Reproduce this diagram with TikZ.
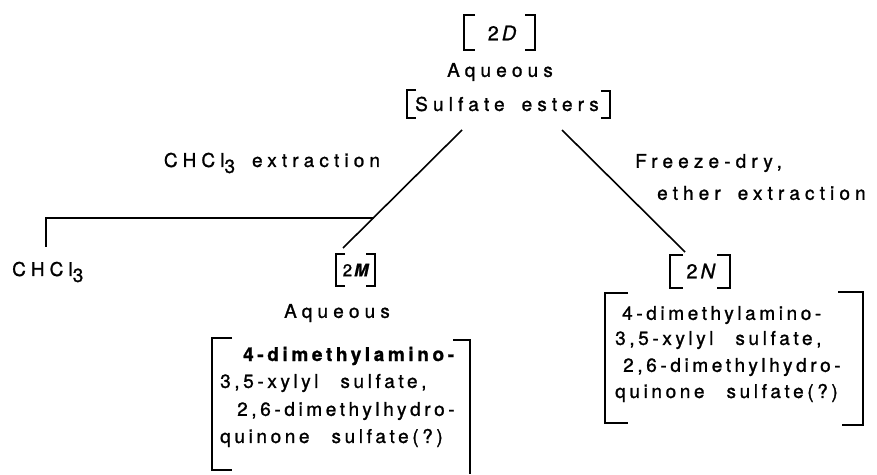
\documentclass[tikz,border=0pt]{standalone}
\usepackage{fontspec}
\setmainfont[FakeBold=1]{TeX Gyre Heros}
\newfontfamily\headfont[LetterSpace=27,FakeBold=1.2]{TeX Gyre Heros}
\newfontfamily\boxfont[LetterSpace=19,FakeBold=1.2]{TeX Gyre Heros}
\newcommand\wsp{\hspace{17pt}}
\newcommand\bsp{\hspace{22pt}}
\begin{document}
\begin{tikzpicture}[x=1pt,y=-1pt,
  lbl/.style={font=\headfont\fontsize{19}{21}\selectfont, inner sep=0pt},
  tag/.style={font=\fontsize{20}{22}\selectfont, inner sep=0pt},
  boxtxt/.style={font=\boxfont\fontsize{19}{21}\selectfont, inner sep=0pt, anchor=west},
  brk/.style={line width=2pt},
  conn/.style={line width=1.6pt}]
\useasboundingbox (0,0) rectangle (877,474);

% top
\node[tag] (d2) at (502,33) {2\hspace{3pt}\textit{D}};
\node[lbl] (aq1) at (500,72) {Aqueous};
\node[lbl] (se) at (507,104) {Sulfate\wsp esters};
\draw[brk] (475,15) -| (464,50) -- (475,50);
\draw[brk] (525,15) -| (535,50) -- (525,50);
\draw[brk] (416,90) -| (407,118) -- (416,118);
\draw[brk] (601,91) -| (610,118) -- (601,118);

% connector labels
\node[lbl] (ext1) at (272,163) {CHCl\raisebox{-6pt}{3}\wsp extraction};
\node[lbl,anchor=west] (fd) at (635,163) {Freeze-dry,};
\node[lbl,anchor=west] (ee) at (657,193) {ether\wsp extraction};

% left branch
\node[lbl,anchor=west] (chcl) at (12,272) {CHCl\raisebox{-6pt}{3}};
\node[tag,font=\fontsize{17}{20}\selectfont] (m2) at (356,270) {2\hspace{2pt}\textbf{\textit{M}}};
\draw[brk] (345,254) -| (336,286) -- (345,286);
\draw[brk] (366,254) -| (375,286) -- (366,286);
\node[lbl] (aq2) at (337,313) {Aqueous};

\node[boxtxt] (m2a) at (243,356) {\bfseries 4-dimethylamino-};
\node[boxtxt] (m2b) at (220,383) {3,5-xylyl\bsp sulfate,};
\node[boxtxt] (m2c) at (237,411) {2,6-dimethylhydro-};
\node[boxtxt] (m2d) at (220,438) {quinone\bsp sulfate(?)};
\draw[brk] (232,338) -| (212,470) -- (232,470);
\draw[brk] (453,340) -| (470,474);

% right branch
\node[tag] (n2) at (701,271) {2\hspace{3pt}\textit{N}};
\draw[brk] (683,255) -| (670,288) -- (683,288);
\draw[brk] (717,255) -| (730,288) -- (717,288);

\node[boxtxt] (n2a) at (622,315) {4-dimethylamino-};
\node[boxtxt] (n2b) at (615,340) {3,5-xylyl\bsp sulfate,};
\node[boxtxt] (n2c) at (623,367) {2,6-dimethylhydro-};
\node[boxtxt] (n2d) at (615,393) {quinone\bsp sulfate(?)};
\draw[brk] (628,293) -| (605,423) -- (628,423);
\draw[brk] (838,292) -| (863,425) -- (842,425);

% connectors
\coordinate (lt) at (462,130);
\coordinate (lb) at (343,248);
\coordinate (jn) at (374,218);
\coordinate (cc) at (46,247);
\coordinate (rt) at (562,130);
\coordinate (rb) at (685,252);
\draw[conn] (lt) -- (lb);
\draw[conn] (jn) -| (cc);
\draw[conn] (rt) -- (rb);
\end{tikzpicture}
\end{document}
